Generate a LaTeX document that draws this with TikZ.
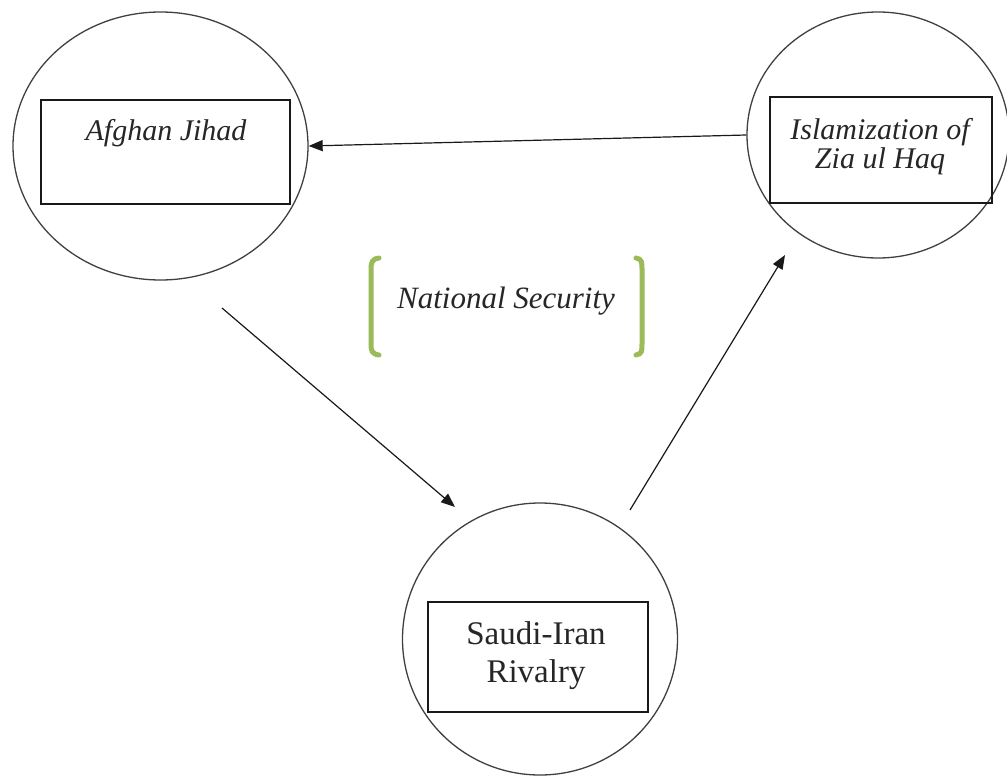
\documentclass[tikz,border=0pt]{standalone}
\usepackage{fontspec}
\setmainfont{Liberation Serif}
\usetikzlibrary{shapes.geometric,arrows.meta}
\definecolor{brgreen}{HTML}{9BBB59}
\begin{document}
\begin{tikzpicture}[x=1pt,y=-1pt,
  circ/.style={ellipse, draw=black!75, line width=1.3pt, inner sep=0pt},
  box/.style={rectangle, draw=black!90, line width=1.2pt, inner sep=0pt},
  lbl/.style={font=\fontsize{30}{29}\selectfont\itshape, text=black!85, align=center, inner sep=0pt},
  lblr/.style={font=\fontsize{33}{38}\selectfont, text=black!85, align=center, inner sep=0pt},
  arr/.style={draw=black!90, line width=1.2pt, -{Triangle[length=14pt,width=11pt]}},
  brk/.style={draw=brgreen, line width=5pt, line cap=round}]
\useasboundingbox (0,0) rectangle (1007,776);
\fill[white] (0,0) rectangle (1007,776);
% circles
\node[circ, minimum width=295pt, minimum height=268pt] (afg) at (160.5,146) {};
\node[circ, minimum width=262pt, minimum height=246pt] (zia) at (878,135) {};
\node[circ, minimum width=275pt, minimum height=272pt] (sau) at (540,639) {};
% boxes
\node[box, minimum width=249pt, minimum height=104pt] (afgbox) at (165.5,152) {};
\node[box, minimum width=222pt, minimum height=106pt] (ziabox) at (881,150) {};
\node[box, minimum width=220pt, minimum height=110pt] (saubox) at (538,657) {};
% labels
\node[lbl, anchor=base] (afgtxt) at (166,140) {Afghan Jihad};
\node[lbl] (ziatxt) at (880,147) {Islamization of\\Zia ul Haq};
\node[lblr] (sautxt) at (536,656) {Saudi-Iran\\Rivalry};
\node[lbl, font=\fontsize{31}{31}\selectfont\itshape, anchor=base] (natsec) at (506,308) {National Security};
% brackets
\draw[brk] (379,258) .. controls (372,259) and (371,262) .. (371,270) -- (371,344) .. controls (371,351) and (372,354) .. (379,355);
\draw[brk] (636,258) .. controls (642,259) and (642,262) .. (642,270) -- (642,344) .. controls (642,351) and (642,354) .. (636,355);
% arrows
\coordinate (a2s) at (222,308);
\coordinate (a2e) at (455,507);
\coordinate (a3s) at (630,510);
\coordinate (a3e) at (785,255);
\draw[arr] (zia.west) -- (afg.east);
\draw[arr] (a2s) -- (a2e);
\draw[arr] (a3s) -- (a3e);
\end{tikzpicture}
\end{document}
